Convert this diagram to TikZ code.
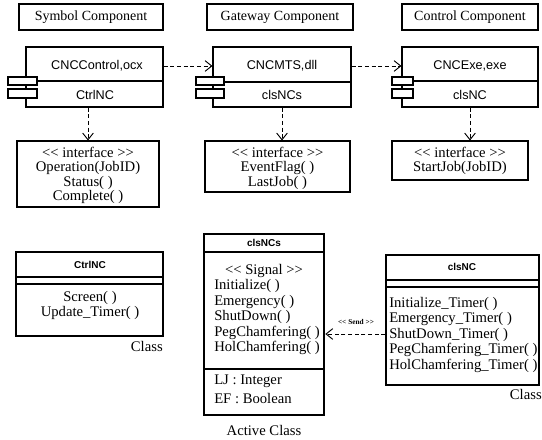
\documentclass[tikz,border=0pt]{standalone}
\usepackage{fontspec}
\setmainfont{Liberation Serif}
\setsansfont{Liberation Sans}
\usetikzlibrary{arrows.meta,fit}
\newcommand\ltlt{\hbox{\textless}\kern0pt\hbox{\textless}}
\newcommand\gtgt{\hbox{\textgreater}\kern0pt\hbox{\textgreater}}
\begin{document}
\begin{tikzpicture}[x=0.75pt,y=-0.75pt,
  rbox/.style={draw,line width=0.8pt,inner sep=0pt},
  abox/.style={draw,line width=2pt,inner sep=0pt},
  pin/.style={draw,line width=0.8pt,fill=white,inner sep=0pt},
  divl/.style={line width=0.8pt},
  lbl/.style={font=\fontsize{10.5}{12}\selectfont,inner sep=0pt},
  sertxt/.style={font=\fontsize{11}{13}\selectfont,inner sep=0pt,anchor=base},
  sertxtl/.style={font=\fontsize{11}{13}\selectfont,inner sep=0pt,anchor=base west},
  sertxtr/.style={font=\fontsize{11}{13}\selectfont,inner sep=0pt,anchor=base east},
  comptxt/.style={font=\sffamily\fontsize{9.5}{11}\selectfont,inner sep=0pt},
  clstitle/.style={font=\sffamily\bfseries\fontsize{7.5}{9}\selectfont,inner sep=0pt},
  sendlbl/.style={font=\bfseries\fontsize{5.5}{7}\selectfont,inner sep=0pt},
  dep/.style={draw,line width=0.7pt,dash pattern=on 3pt off 2pt,-{Straight Barb[length=5pt,width=8pt]}}]
\useasboundingbox (0,0) rectangle (542,439);
% top labels
\node[rbox,fit={(19,4) (163,30)}] (symL) {};
\node[lbl] (symT) at (symL.center) {Symbol Component};
\node[rbox,fit={(207,4) (353,30)}] (gwL) {};
\node[lbl] (gwT) at (gwL.center) {Gateway Component};
\node[rbox,fit={(402,4) (538,30)}] (ctL) {};
\node[lbl] (ctT) at (ctL.center) {Control Component};
% components
\node[rbox,fit={(26,47) (163,107)}] (compA) {};
\draw[divl] (26,81) -- (163,81);
\node[pin,fit={(8,77) (37,85)}] (pa1) {};
\node[pin,fit={(8,89) (37,98)}] (pa2) {};
\node[comptxt] (cA1) at (97,66) {CNCControl,ocx};
\node[comptxt] (cA2) at (95,95) {CtrlNC};
\node[rbox,fit={(213,47) (351,107)}] (compB) {};
\draw[divl] (213,82) -- (351,82);
\node[pin,fit={(196,77) (224,85)}] (pb1) {};
\node[pin,fit={(196,89) (224,98)}] (pb2) {};
\node[comptxt] (cB1) at (282,66) {CNCMTS,dll};
\node[comptxt] (cB2) at (282,95) {clsNCs};
\node[rbox,fit={(402,47) (538,107)}] (compC) {};
\draw[divl] (402,81) -- (538,81);
\node[pin,fit={(392,77) (413,85)}] (pc1) {};
\node[pin,fit={(392,89) (413,98)}] (pc2) {};
\node[comptxt] (cC1) at (470,66) {CNCExe,exe};
\node[comptxt] (cC2) at (470,95) {clsNC};
\coordinate (hy) at (0,66);
\draw[dep] (compA.east |- hy) -- (compB.west |- hy);
\draw[dep] (compB.east |- hy) -- (compC.west |- hy);
% interfaces
\node[rbox,fit={(17,141) (159,207)}] (ifA) {};
\foreach \t [count=\i] in {\ltlt\ interface \gtgt, Operation(JobID), Status( ), Complete( )}
  \node[sertxt] (ia\i) at (88,{157+14.5*(\i-1)}) {\t};
\node[rbox,fit={(205,141) (350,192)}] (ifB) {};
\foreach \t [count=\i] in {\ltlt\ interface \gtgt, EventFlag( ), LastJob( )}
  \node[sertxt] (ib\i) at (277.5,{157+14.5*(\i-1)}) {\t};
\node[rbox,fit={(392,141) (528,180)}] (ifC) {};
\foreach \t [count=\i] in {\ltlt\ interface \gtgt, StartJob(JobID)}
  \node[sertxt] (ic\i) at (460,{157+14.5*(\i-1)}) {\t};
\draw[dep] (ifA.north |- compA.south) -- (ifA.north);
\draw[dep] (compB.south) -- (compB.south |- ifB.north);
\draw[dep] (compC.south) -- (compC.south |- ifC.north);
% class CtrlNC
\node[rbox,fit={(16,252) (163,336)}] (clA) {};
\draw[divl] (16,277) -- (163,277);
\draw[divl] (16,284) -- (163,284);
\node[clstitle] (clAt) at (90,265) {CtrlNC};
\node[sertxt] (clA1) at (90,301) {Screen( )};
\node[sertxt] (clA2) at (90,316) {Update\_Timer( )};
\node[sertxtr] (clAc) at (163,351) {Class};
% active class clsNCs
\node[abox,fit={(204,234) (324,415)}] (clB) {};
\draw[divl] (204,252) -- (324,252);
\draw[divl] (204,369) -- (324,369);
\node[clstitle] (clBt) at (264,243) {clsNCs};
\node[sertxt] (clBs) at (264,274) {\ltlt\ Signal \gtgt};
\foreach \t [count=\i] in {Initialize( ), Emergency( ), ShutDown( ), PegChamfering( ), HolChamfering( )}
  \node[sertxtl] (clB\i) at (214,{289.5+15.5*(\i-1)}) {\t};
\node[sertxtl] (clBa) at (214,384) {LJ : Integer};
\node[sertxtl] (clBb) at (214,403) {EF : Boolean};
\node[sertxt] (clBc) at (264,435) {Active Class};
% class clsNC
\node[rbox,fit={(386,255) (539,385)}] (clC) {};
\draw[divl] (386,280) -- (539,280);
\draw[divl] (386,287) -- (539,287);
\node[clstitle] (clCt) at (462,267) {clsNC};
\foreach \t [count=\i] in {Initialize\_Timer( ), Emergency\_Timer( ), ShutDown\_Timer( ), PegChamfering\_Timer( ), HolChamfering\_Timer( )}
  \node[sertxtl] (clC\i) at (389,{307+15.5*(\i-1)}) {\t};
\node[sertxtr] (clCc) at (542,399) {Class};
% send
\coordinate (sy) at (0,334);
\draw[dep] (clC.west |- sy) -- (clB.east |- sy);
\node[sendlbl] (sendT) at (356,322) {\ltlt\ Send \gtgt};
\end{tikzpicture}
\end{document}
